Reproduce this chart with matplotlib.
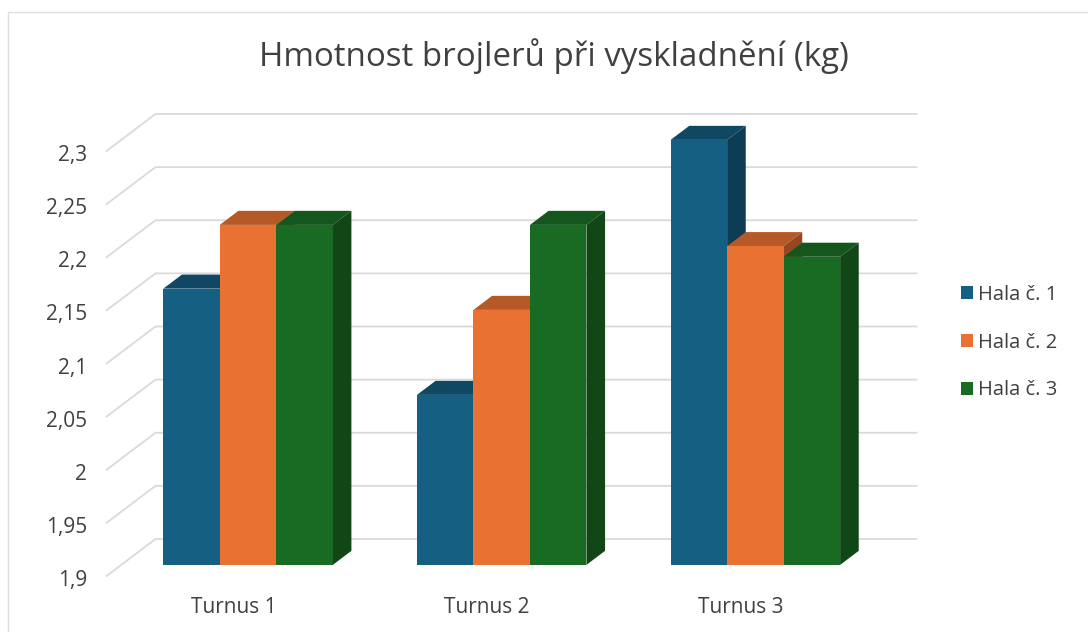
import matplotlib
matplotlib.use("Agg")
from matplotlib import pyplot as plt
from matplotlib.patches import Patch
from matplotlib.lines import Line2D
from matplotlib.transforms import ScaledTranslation
import numpy as np

plt.rcParams['font.family'] = ['Open Sans', 'DejaVu Sans']

title = "Hmotnost brojlerů při vyskladnění (kg)"
categories = ["Turnus 1", "Turnus 2", "Turnus 3"]
series_names = ["Hala č. 1", "Hala č. 2", "Hala č. 3"]
hala1 = [2.16, 2.06, 2.30]
hala2 = [2.22, 2.14, 2.20]
hala3 = [2.22, 2.22, 2.19]
ticks = [1.9, 1.95, 2.0, 2.05, 2.1, 2.15, 2.2, 2.25, 2.3]
tick_labels = ["1,9", "1,95", "2", "2,05", "2,1", "2,15", "2,2", "2,25", "2,3"]

front_colors = ["#156082", "#E97132", "#196B24"]
top_colors = ["#104863", "#B55A27", "#14561D"]
side_colors = ["#0D3C54", "#95481F", "#114617"]
text_color = "#404040"
grid_color = "#DADADA"

W, H = 1088, 632
fig = plt.figure(figsize=(W / 100, H / 100), dpi=100, facecolor="white")

# axes = front plane of the fake 3d box, in pixels
left, right, top, bottom = 106.5, 867.5, 151, 576
ax = fig.add_axes([left / W, 1 - bottom / H, (right - left) / W, (bottom - top) / H])
ax.set_xlim(-0.5, 2.5)
ax.set_ylim(1.9, 2.3)
for s in ax.spines.values():
    s.set_visible(False)

# depth of the box converted to data units
depth_x = 49 / (right - left) * 3
depth_y = 37 / (bottom - top) * 0.4
bar_w = 56.5 / (right - left) * 3
d_front = 0.30
d_back = 0.68

def proj(x, v, d):
    return x + d * depth_x, v + d * depth_y

for t in ticks:
    x0, y0 = proj(-0.5, t, 0)
    x1, y1 = proj(-0.5, t, 1)
    x2, y2 = proj(2.5, t, 1)
    ax.plot([x0, x1, x2], [y0, y1, y2], color=grid_color, lw=1.3, clip_on=False, zorder=1,
            solid_joinstyle="miter")

values = [hala1, hala2, hala3]
for c in range(len(categories)):
    for i in range(3):
        v = values[i][c]
        xl = c + (i - 1.5) * bar_w
        xr = xl + bar_w
        z = 2 + c + i * 0.1
        # top
        pts = [proj(xl, v, d_front), proj(xr, v, d_front), proj(xr, v, d_back), proj(xl, v, d_back)]
        ax.fill(*zip(*pts), color=top_colors[i], lw=0, clip_on=False, zorder=z)
        # side
        pts = [proj(xr, 1.9, d_front), proj(xr, v, d_front), proj(xr, v, d_back), proj(xr, 1.9, d_back)]
        ax.fill(*zip(*pts), color=side_colors[i], lw=0, clip_on=False, zorder=z)
        # front
        fx, fy = proj(xl, 1.9, d_front)
        ax.bar(fx, v - 1.9, width=bar_w, bottom=fy, align="edge", color=front_colors[i], lw=0,
               clip_on=False, zorder=z + 0.01)

ax.set_yticks(ticks)
ax.set_yticklabels(tick_labels, fontsize=15, color=text_color)
ax.set_xticks(range(3))
ax.set_xticklabels(categories, fontsize=15, color=text_color)
ax.tick_params(axis="y", length=0, pad=14)
ax.tick_params(axis="x", length=0, pad=15)

# y labels sit about 2 px lower in the original
shift = ScaledTranslation(0, -2 / 100, fig.dpi_scale_trans)
for lab in ax.get_yticklabels():
    lab.set_transform(lab.get_transform() + shift)

fig.text(554 / W, 1 - 56 / H, title, ha="center", va="center", fontsize=23.8, color=text_color)

handles = [Patch(color=c, lw=0) for c in front_colors]
fig.legend(handles, series_names, loc="center left", bbox_to_anchor=(943 / W, 1 - 342.5 / H),
           frameon=False, fontsize=14.5, labelcolor=text_color, handlelength=0.6,
           handleheight=0.6, handletextpad=0.25, labelspacing=1.38)

# chart border, only left and top are inside the crop
fig.add_artist(Line2D([8 / W, 8 / W, 1], [0, 1 - 12 / H, 1 - 12 / H], color="#DDDDDD", lw=1.0))

fig.savefig("out.png", dpi=100)
